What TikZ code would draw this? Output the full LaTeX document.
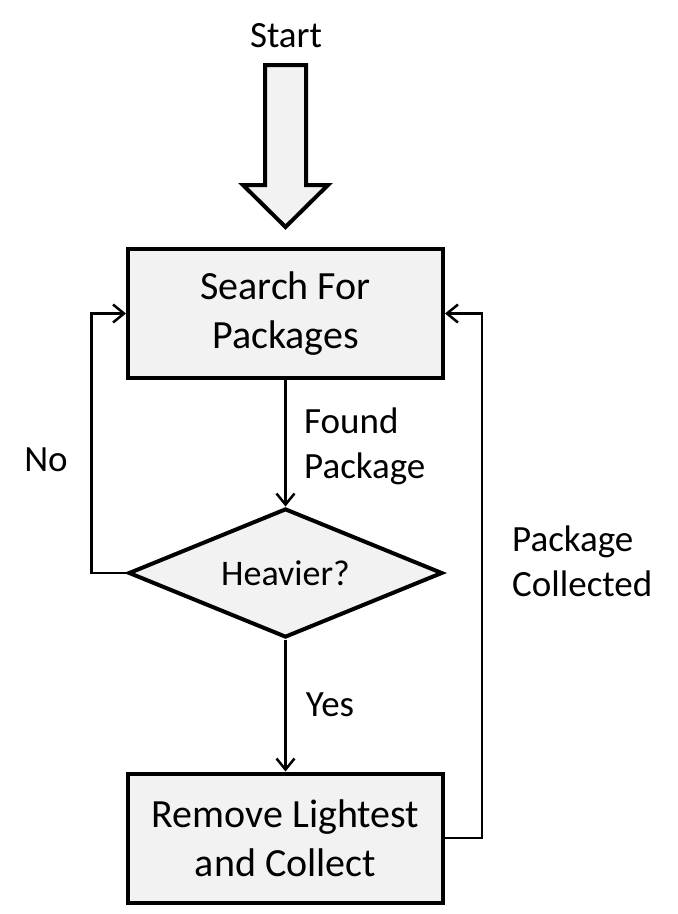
\documentclass[tikz,border=0pt]{standalone}
\usepackage{fontspec}
\setmainfont{Carlito}
\usepackage{tikz}
\usetikzlibrary{%
	arrows.meta,%
	shapes.geometric%
}
\definecolor{boxgray}{HTML}{F2F2F2}

\begin{document}
\begin{tikzpicture}[x=1pt,y=-1pt,
	procbox/.style={draw,line width=4pt,fill=boxgray,minimum width=315pt,minimum height=129pt,align=center,font=\fontsize{40}{48.5}\selectfont},
	decision/.style={diamond,draw,line width=4pt,fill=boxgray,aspect=2.4,inner sep=0pt,minimum width=314pt,minimum height=129pt,font=\fontsize{36}{44}\selectfont},
	flow/.style={line width=2.5pt,-{Straight Barb[length=11pt,width=18pt]}},
	lbl/.style={inner sep=0pt,align=left,font=\fontsize{37}{45}\selectfont}]
\useasboundingbox (0,0) rectangle (678,914);

% Start arrow
\node [lbl,anchor=base] (start) at (286,47) {Start};
\draw [line width=4pt,fill=boxgray,miter limit=10] (265,65) -- (306,65) -- (306,185) -- (328,185) -- (285.5,227) -- (243,185) -- (265,185) -- cycle;

% Boxes
\node [procbox] (search) at (285.5,313.5) {Search For\\Packages};
\node [decision] (heavier) at (285.5,573) {Heavier?};
\node [procbox] (remove) at (285.5,838) {Remove Lightest\\and Collect};

% Flow
\draw [flow] (search.south) -- (heavier.north);
\draw [flow] (heavier.south) -- (remove.north);
\draw [flow] (heavier.west) -- ++(-35,0) |- (search.west); % No
\draw [flow] (remove.east) -- ++(37,0) |- (search.east); % Collected

% Labels
\node [lbl,anchor=west] (found) at (304,446) {Found\\Package};
\node [lbl] (no) at (46,460) {No};
\node [lbl] (yes) at (330,705) {Yes};
\node [lbl,anchor=west] (collected) at (512,561) {Package\\Collected};
\end{tikzpicture}
\end{document}
